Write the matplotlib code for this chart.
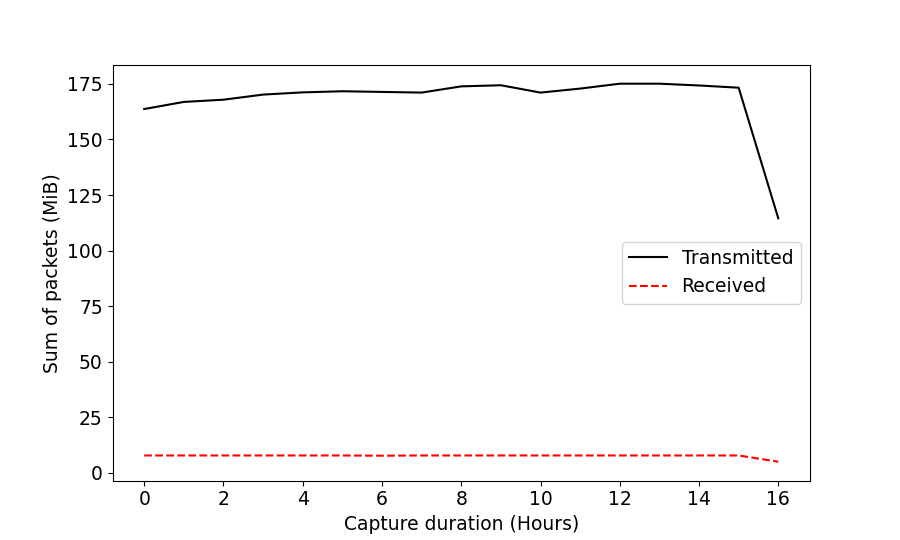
import matplotlib
matplotlib.use("Agg")
import matplotlib.pyplot as plt

# capture hours and per-hour sums (MiB)
hours = list(range(17))
transmitted = [163.7, 166.9, 167.9, 170.2, 171.2, 171.7, 171.4, 171.1, 173.9,
               174.4, 171.1, 172.9, 175.1, 175.1, 174.3, 173.3, 114.5]
received = [7.8, 7.8, 7.8, 7.8, 7.8, 7.8, 7.7, 7.8, 7.8,
            7.8, 7.8, 7.8, 7.8, 7.8, 7.8, 7.8, 5.0]

plt.rcParams['font.size'] = 13.5

fig, ax = plt.subplots(figsize=(9, 5.4), dpi=100)
ax.plot(hours, transmitted, c='k', label='Transmitted')
ax.plot(hours, received, c='r', ls='--', label='Received')
ax.set_xlabel("Capture duration (Hours)")
ax.set_ylabel("Sum of packets (MiB)")
ax.set_xticks(range(0, 17, 2))
ax.legend(loc='center right')

fig.savefig('out.png', dpi=100)
